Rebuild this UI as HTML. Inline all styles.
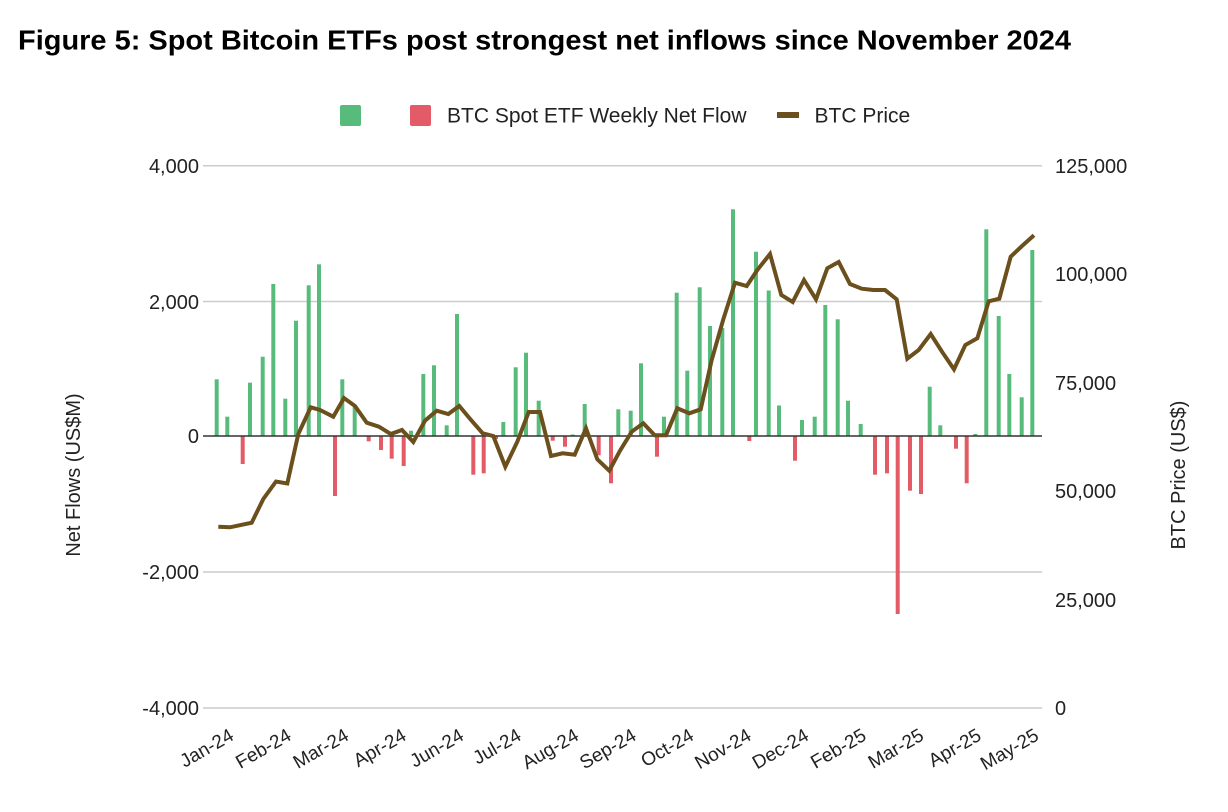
<!DOCTYPE html>
<html>
<head>
<meta charset="utf-8">
<style>
html,body{margin:0;padding:0;background:#fff;}
svg{display:block;}
text{font-family:"Liberation Sans",Arial,sans-serif;}
</style>
</head>
<body>
<svg width="1228" height="812" viewBox="0 0 1228 812" xmlns="http://www.w3.org/2000/svg">
<rect x="0" y="0" width="1228" height="812" fill="#fff"/>
<!-- Title -->
<text x="18" y="49.5" font-size="28" font-weight="bold" fill="#000" textLength="1053" lengthAdjust="spacingAndGlyphs">Figure 5: Spot Bitcoin ETFs post strongest net inflows since November 2024</text>

<!-- Legend -->
<rect x="340" y="105" width="21" height="21" rx="2" fill="#57bb7b"/>
<rect x="410" y="105" width="21" height="21" rx="2" fill="#e35b67"/>
<text x="447" y="122.5" font-size="21" fill="#222">BTC Spot ETF Weekly Net Flow</text>
<rect x="777" y="112" width="22" height="6" fill="#6b4f1d"/>
<text x="814.5" y="122.5" font-size="21" fill="#222">BTC Price</text>

<!-- Gridlines -->
<g stroke="#cccccc" stroke-width="1.5">
<line x1="203" y1="165.7" x2="1042" y2="165.7"/>
<line x1="203" y1="301.5" x2="1042" y2="301.5"/>
<line x1="203" y1="572" x2="1042" y2="572"/>
<line x1="203" y1="708" x2="1042" y2="708"/>
</g>

<!-- Left tick labels -->
<g font-size="20" fill="#222" text-anchor="end">
<text x="199" y="173">4,000</text>
<text x="199" y="309">2,000</text>
<text x="199" y="443">0</text>
<text x="199" y="579">-2,000</text>
<text x="199" y="715">-4,000</text>
</g>
<!-- Right tick labels -->
<g font-size="20" fill="#222" text-anchor="start">
<text x="1055" y="173">125,000</text>
<text x="1055" y="281">100,000</text>
<text x="1055" y="390">75,000</text>
<text x="1055" y="498">50,000</text>
<text x="1055" y="607">25,000</text>
<text x="1055" y="715">0</text>
</g>

<!-- Axis titles -->
<text x="0" y="0" font-size="20" fill="#222" text-anchor="middle" transform="translate(80,475) rotate(-90)">Net Flows (US$M)</text>
<text x="0" y="0" font-size="20" fill="#222" text-anchor="middle" transform="translate(1185,475) rotate(-90)">BTC Price (US$)</text>

<!-- Bars -->
<g fill="#57bb7b">
<rect x="214.7" y="379.3" width="4" height="56.7"/>
<rect x="225.3" y="416.7" width="4" height="19.3"/>
<rect x="248" y="382.7" width="4" height="53.3"/>
<rect x="260.7" y="356.7" width="4" height="79.3"/>
<rect x="271.3" y="284" width="4" height="152"/>
<rect x="283.3" y="398.7" width="4" height="37.3"/>
<rect x="294" y="320.7" width="4" height="115.3"/>
<rect x="306.7" y="285.3" width="4" height="150.7"/>
<rect x="317" y="264.3" width="4" height="171.7"/>
<rect x="340.3" y="379.3" width="4" height="56.7"/>
<rect x="352.7" y="406.7" width="4" height="29.3"/>
<rect x="409" y="430.7" width="4" height="5.3"/>
<rect x="421.3" y="374" width="4" height="62"/>
<rect x="432" y="365.3" width="4" height="70.7"/>
<rect x="444.7" y="425.3" width="4" height="10.7"/>
<rect x="455" y="314" width="4" height="122"/>
<rect x="501.3" y="422" width="4" height="14"/>
<rect x="513.7" y="367.3" width="4" height="68.7"/>
<rect x="524" y="352.7" width="4" height="83.3"/>
<rect x="536.7" y="400.7" width="4" height="35.3"/>
<rect x="570.7" y="434.5" width="4" height="1.5"/>
<rect x="582.7" y="404" width="4" height="32"/>
<rect x="616.3" y="409.3" width="4" height="26.7"/>
<rect x="628.7" y="410.7" width="4" height="25.3"/>
<rect x="639" y="363.3" width="4" height="72.7"/>
<rect x="662" y="416.7" width="4" height="19.3"/>
<rect x="674.7" y="292.7" width="4" height="143.3"/>
<rect x="685.3" y="370.7" width="4" height="65.3"/>
<rect x="697.7" y="287.3" width="4" height="148.7"/>
<rect x="708" y="326" width="4" height="110"/>
<rect x="720.3" y="328" width="4" height="108"/>
<rect x="731" y="209.3" width="4" height="226.7"/>
<rect x="754" y="251.7" width="4" height="184.3"/>
<rect x="766.7" y="290.5" width="4" height="145.5"/>
<rect x="777" y="405.5" width="4" height="30.5"/>
<rect x="800" y="420" width="4" height="16"/>
<rect x="812.7" y="416.7" width="4" height="19.3"/>
<rect x="823.3" y="305" width="4" height="131"/>
<rect x="835.7" y="319.3" width="4" height="116.7"/>
<rect x="846" y="400.7" width="4" height="35.3"/>
<rect x="858.7" y="424" width="4" height="12"/>
<rect x="927.7" y="386.7" width="4" height="49.3"/>
<rect x="938.3" y="425.3" width="4" height="10.7"/>
<rect x="973.3" y="434" width="4" height="2"/>
<rect x="984.3" y="229.3" width="4" height="206.7"/>
<rect x="996.7" y="316" width="4" height="120"/>
<rect x="1007.3" y="374" width="4" height="62"/>
<rect x="1019.7" y="397.3" width="4" height="38.7"/>
<rect x="1030.3" y="250" width="4" height="186"/>
</g>
<g fill="#e35b67">
<rect x="240.7" y="436" width="4" height="28"/>
<rect x="333" y="436" width="4" height="60"/>
<rect x="366.7" y="436" width="4" height="5.3"/>
<rect x="379" y="436" width="4" height="14"/>
<rect x="389.7" y="436" width="4" height="22.7"/>
<rect x="401.7" y="436" width="4" height="30"/>
<rect x="471.3" y="436" width="4" height="38.7"/>
<rect x="481.7" y="436" width="4" height="37.3"/>
<rect x="494" y="436" width="4" height="3"/>
<rect x="550.7" y="436" width="4" height="4.7"/>
<rect x="563" y="436" width="4" height="10.7"/>
<rect x="596.7" y="436" width="4" height="19.3"/>
<rect x="609" y="436" width="4" height="47.3"/>
<rect x="655" y="436" width="4" height="20.7"/>
<rect x="747.3" y="436" width="4" height="5"/>
<rect x="793" y="436" width="4" height="24.7"/>
<rect x="873" y="436" width="4" height="38.7"/>
<rect x="885" y="436" width="4" height="37.3"/>
<rect x="895.7" y="436" width="4" height="178"/>
<rect x="908" y="436" width="4" height="54.7"/>
<rect x="919" y="436" width="4" height="58"/>
<rect x="954" y="436" width="4" height="12.7"/>
<rect x="964.7" y="436" width="4" height="47.3"/>
</g>

<!-- Zero line -->
<line x1="203" y1="436" x2="1042" y2="436" stroke="#333" stroke-width="1.6"/>

<!-- BTC price line -->
<polyline fill="none" stroke="#6b4f1d" stroke-width="4" stroke-linejoin="miter" stroke-linecap="butt" points="
218.3,526.7 230,527.3 251.7,522.7 263.3,499 276,481.5 287.3,483.5 298.3,434 310.7,407.3 320,410 333.3,416.7 344,398 355,406 366.7,422.7 379,426.7 390.7,434 402,430 413.3,442 425,420.7 436.7,410.7 448.3,414 459.3,406 471,420 482.7,433.3 493.3,436 505.3,466.7 517.3,441.7 528.7,412 540,412 551,456 562.7,453.3 574.7,454.7 586,428.3 597.3,459.3 609.3,470.7 620,450.7 631.7,431.7 643.3,423.3 654.7,435.3 666,435.3 677.3,408.3 689.3,413.3 700.7,409.3 711.7,360 723.3,319.3 735,282.7 746.7,286 757.3,270 770,254 781.3,295 792.7,302 804,280 816,299.3 827.3,268.3 838.7,262 850,284 861.7,288.7 873.3,290 885,290 896.7,299.3 907.3,358.7 918.7,350 930.7,334 942,351.7 954,369.3 965.3,345 977.3,338.3 988.7,301.3 999.3,298.7 1010.7,256.7 1022,246 1034,235.3"/>

<!-- X labels -->
<g font-size="19" fill="#222" text-anchor="end">
<text transform="translate(235,739) rotate(-30)">Jan-24</text>
<text transform="translate(292.5,739) rotate(-30)">Feb-24</text>
<text transform="translate(350,739) rotate(-30)">Mar-24</text>
<text transform="translate(407.5,739) rotate(-30)">Apr-24</text>
<text transform="translate(465,739) rotate(-30)">Jun-24</text>
<text transform="translate(522.5,739) rotate(-30)">Jul-24</text>
<text transform="translate(580,739) rotate(-30)">Aug-24</text>
<text transform="translate(637.5,739) rotate(-30)">Sep-24</text>
<text transform="translate(695,739) rotate(-30)">Oct-24</text>
<text transform="translate(752.5,739) rotate(-30)">Nov-24</text>
<text transform="translate(810,739) rotate(-30)">Dec-24</text>
<text transform="translate(867.5,739) rotate(-30)">Feb-25</text>
<text transform="translate(925,739) rotate(-30)">Mar-25</text>
<text transform="translate(982.5,739) rotate(-30)">Apr-25</text>
<text transform="translate(1040,739) rotate(-30)">May-25</text>
</g>
</svg>
</body>
</html>
